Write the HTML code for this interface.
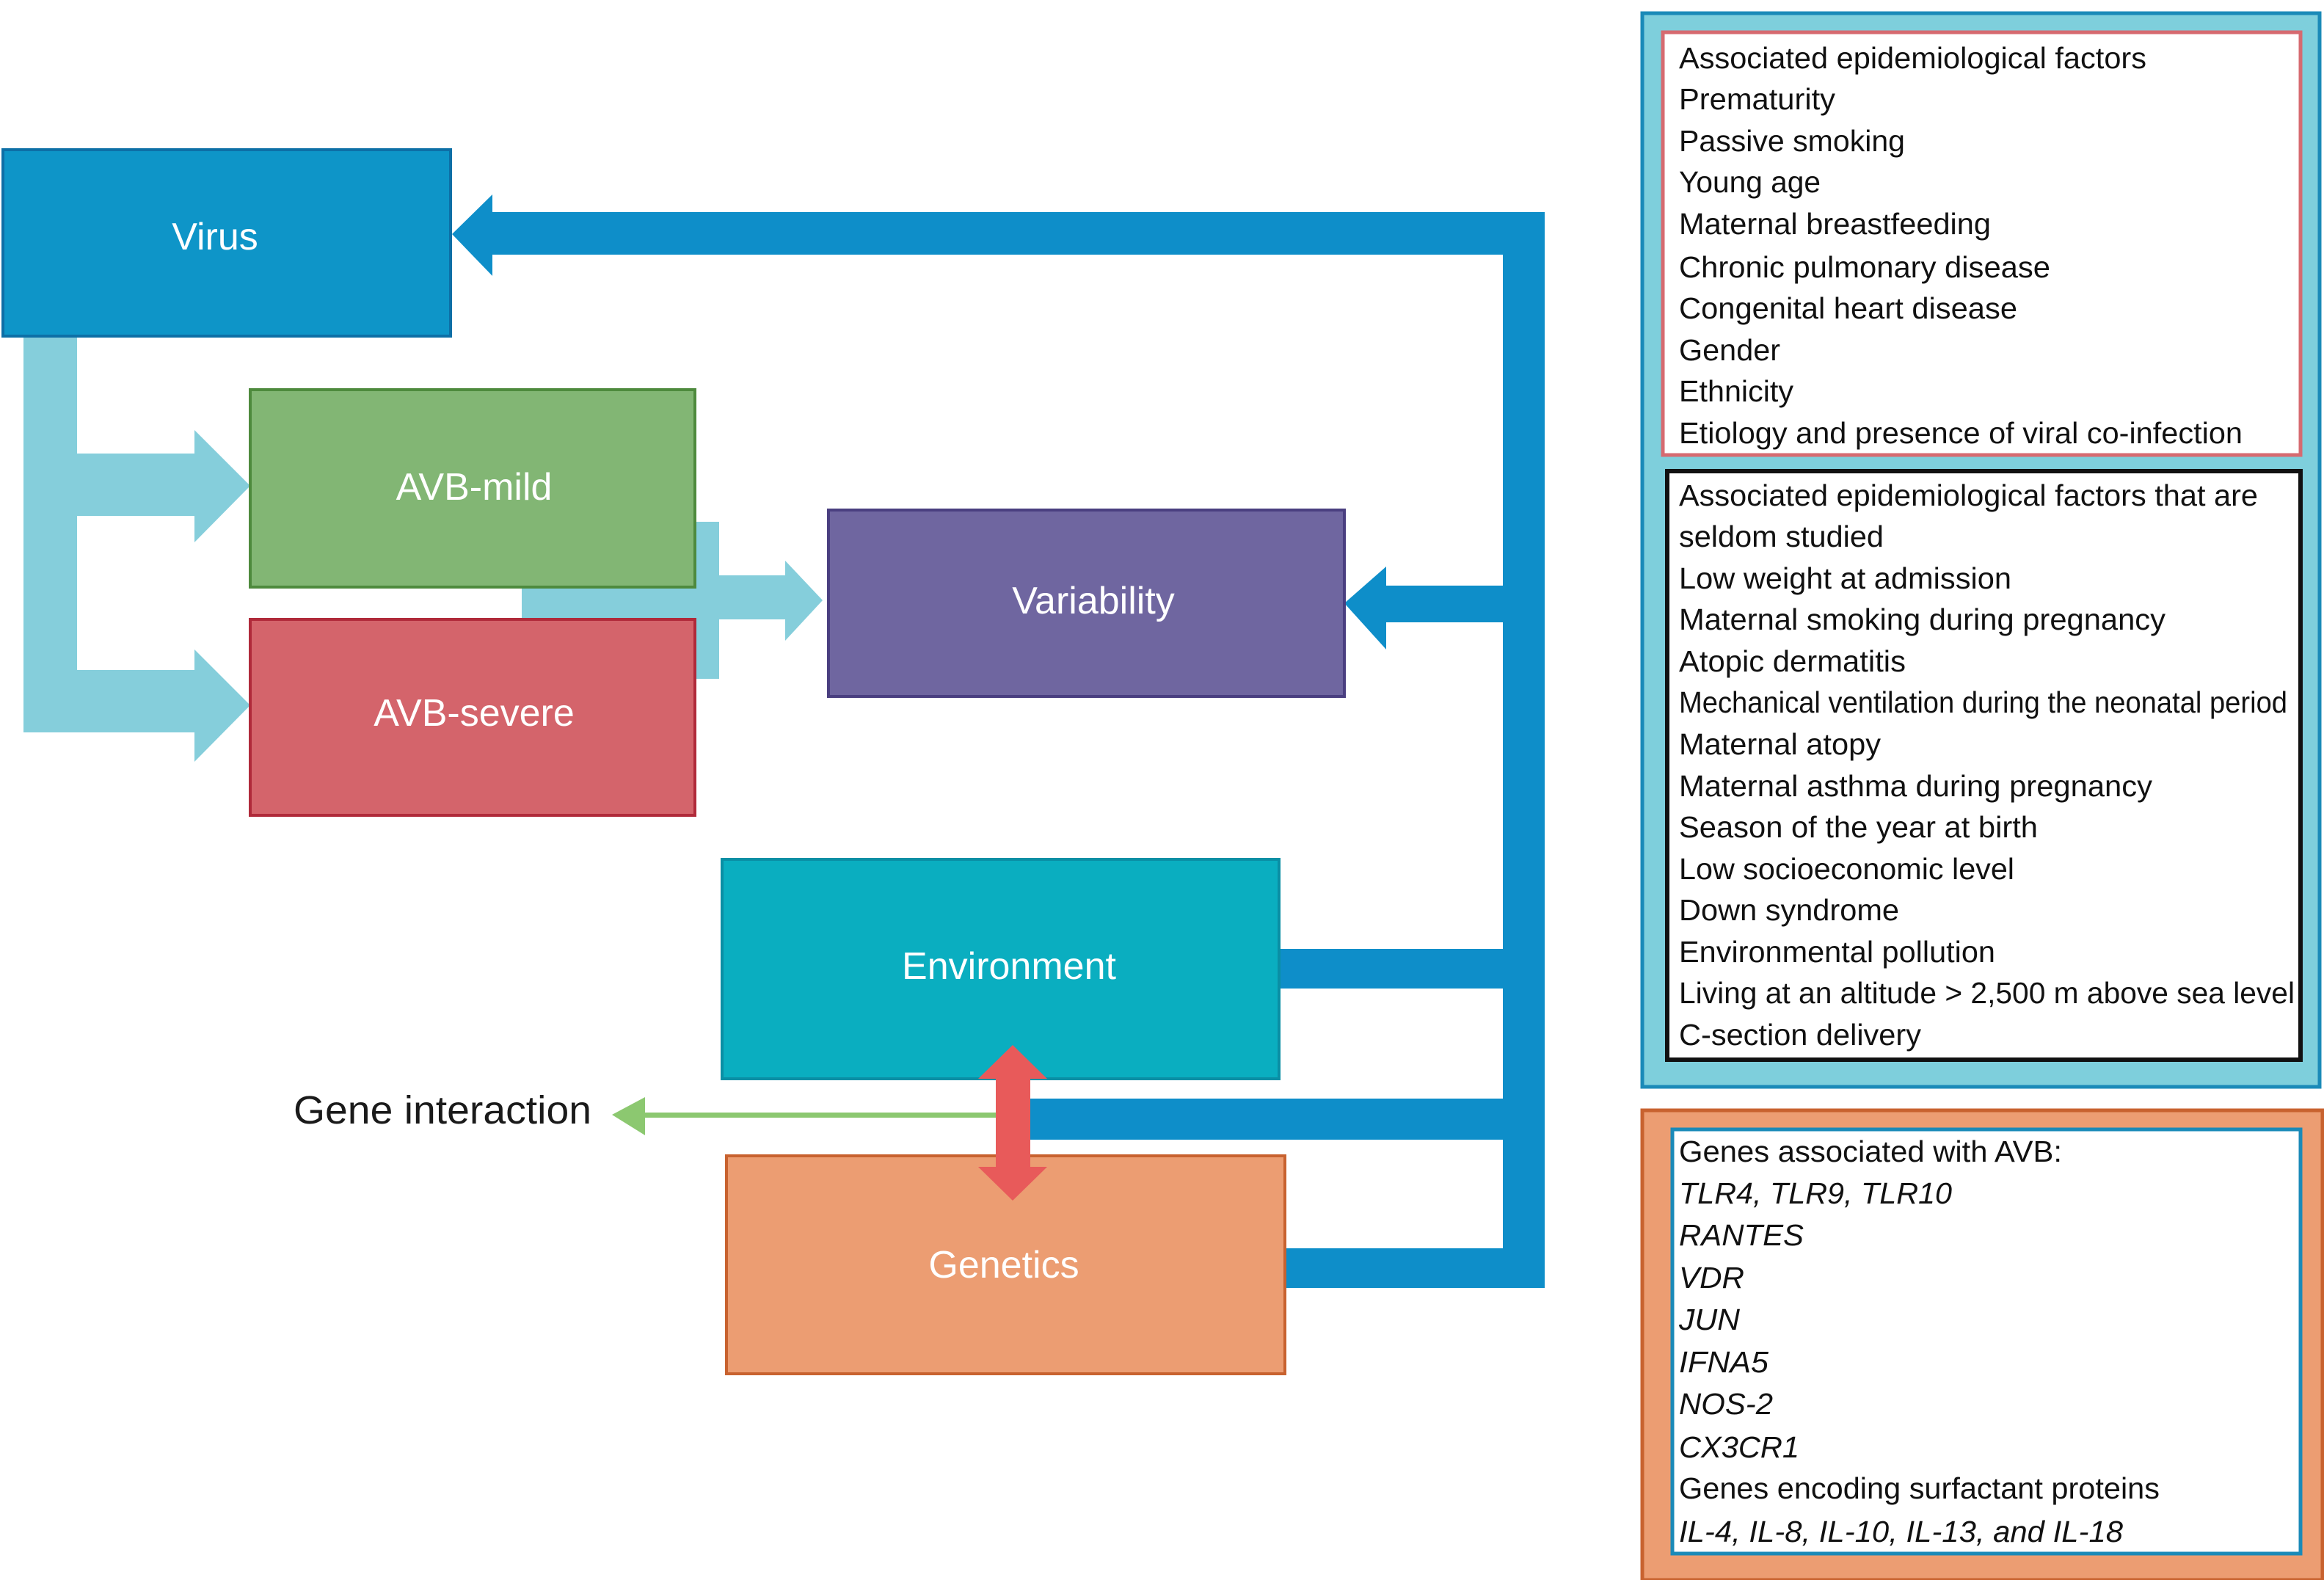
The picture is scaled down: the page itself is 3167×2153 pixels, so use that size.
<!DOCTYPE html>
<html><head><meta charset="utf-8"><style>html,body{margin:0;padding:0;background:#fff}svg{display:block}</style></head><body>
<svg width="3167" height="2153" viewBox="0 0 3167 2153" xmlns="http://www.w3.org/2000/svg" font-family="Liberation Sans, sans-serif">
<!-- light blue connectors -->
<g fill="#85cedb">
<rect x="32" y="458" width="73" height="540"/>
<rect x="32" y="618" width="235" height="85"/>
<polygon points="265,586 341,662 265,739"/>
<rect x="32" y="913" width="235" height="85"/>
<polygon points="265,885 341,961 265,1038"/>
<rect x="947" y="711" width="33" height="214"/>
<rect x="711" y="784" width="362" height="60"/>
<polygon points="1070,764 1121,818 1070,873"/>
</g>
<!-- dark blue connectors -->
<g fill="#0e8ec9">
<rect x="2048" y="289" width="57" height="1466"/>
<rect x="668" y="289" width="1437" height="58"/>
<polygon points="671,265 616,319 671,376"/>
<rect x="1886" y="798" width="190" height="50"/>
<polygon points="1889,772 1832,822 1889,885"/>
<rect x="1740" y="1293" width="330" height="54"/>
<rect x="1404" y="1497" width="666" height="56"/>
<rect x="1748" y="1701" width="357" height="54"/>
</g>
<!-- boxes -->
<rect x="4" y="204" width="610" height="254" fill="#0e95c8" stroke="#0d6fa6" stroke-width="4"/>
<rect x="341" y="531" width="606" height="269" fill="#82b674" stroke="#4e8a3d" stroke-width="4"/>
<rect x="341" y="844" width="606" height="267" fill="#d4646b" stroke="#b02a3a" stroke-width="4"/>
<rect x="1129" y="695" width="703" height="254" fill="#6f66a0" stroke="#4a3f80" stroke-width="4"/>
<rect x="984" y="1171" width="759" height="299" fill="#0aaec0" stroke="#0a8fa5" stroke-width="4"/>
<rect x="990" y="1575" width="761" height="297" fill="#ec9d72" stroke="#c8622f" stroke-width="4"/>
<!-- green arrow -->
<rect x="875" y="1516" width="485" height="7" fill="#8cc870"/>
<polygon points="834,1519 879,1495 879,1547" fill="#8cc870"/>
<!-- red double arrow -->
<g fill="#e85a5a">
<rect x="1357" y="1460" width="47" height="140"/>
<polygon points="1380,1424 1333,1470 1427,1470"/>
<polygon points="1380,1636 1333,1590 1427,1590"/>
</g>
<g fill="#fff" font-size="52" text-anchor="middle" dominant-baseline="central">
<text x="293" y="323">Virus</text>
<text x="646" y="664">AVB-mild</text>
<text x="646" y="972">AVB-severe</text>
<text x="1490" y="819">Variability</text>
<text x="1375" y="1317">Environment</text>
<text x="1368" y="1724">Genetics</text>
</g>
<text x="400" y="1513" font-size="54" fill="#1a1a1a" dominant-baseline="central" textLength="406" lengthAdjust="spacingAndGlyphs">Gene interaction</text>
<!-- right panel -->
<rect x="2238" y="18" width="923" height="1463" fill="#7ecfdc" stroke="#1a8ab8" stroke-width="5"/>
<rect x="2266" y="44" width="869" height="576" fill="#fff" stroke="#d66a70" stroke-width="5"/>
<rect x="2272" y="642" width="863" height="802" fill="#fff" stroke="#111" stroke-width="6"/>
<rect x="2238" y="1513" width="927" height="640" fill="#ec9d72" stroke="#c8622f" stroke-width="5"/>
<rect x="2279" y="1539" width="856" height="578" fill="#fff" stroke="#1a8ab8" stroke-width="5"/>
<g font-size="41" fill="#111" dominant-baseline="central" lengthAdjust="spacingAndGlyphs">
<text x="2288" y="79" textLength="637" lengthAdjust="spacingAndGlyphs">Associated epidemiological factors</text>
<text x="2288" y="135" textLength="213" lengthAdjust="spacingAndGlyphs">Prematurity</text>
<text x="2288" y="192" textLength="308" lengthAdjust="spacingAndGlyphs">Passive smoking</text>
<text x="2288" y="248" textLength="193" lengthAdjust="spacingAndGlyphs">Young age</text>
<text x="2288" y="305" textLength="425" lengthAdjust="spacingAndGlyphs">Maternal breastfeeding</text>
<text x="2288" y="364" textLength="506" lengthAdjust="spacingAndGlyphs">Chronic pulmonary disease</text>
<text x="2288" y="420" textLength="461" lengthAdjust="spacingAndGlyphs">Congenital heart disease</text>
<text x="2288" y="477" textLength="138" lengthAdjust="spacingAndGlyphs">Gender</text>
<text x="2288" y="533" textLength="156" lengthAdjust="spacingAndGlyphs">Ethnicity</text>
<text x="2288" y="590" textLength="768" lengthAdjust="spacingAndGlyphs">Etiology and presence of viral co-infection</text>
<text x="2288" y="675" textLength="789" lengthAdjust="spacingAndGlyphs">Associated epidemiological factors that are</text>
<text x="2288" y="731" textLength="279" lengthAdjust="spacingAndGlyphs">seldom studied</text>
<text x="2288" y="788" textLength="453" lengthAdjust="spacingAndGlyphs">Low weight at admission</text>
<text x="2288" y="844" textLength="663" lengthAdjust="spacingAndGlyphs">Maternal smoking during pregnancy</text>
<text x="2288" y="901" textLength="309" lengthAdjust="spacingAndGlyphs">Atopic dermatitis</text>
<text x="2288" y="957" textLength="829" lengthAdjust="spacingAndGlyphs">Mechanical ventilation during the neonatal period</text>
<text x="2288" y="1014" textLength="275" lengthAdjust="spacingAndGlyphs">Maternal atopy</text>
<text x="2288" y="1071" textLength="645" lengthAdjust="spacingAndGlyphs">Maternal asthma during pregnancy</text>
<text x="2288" y="1127" textLength="489" lengthAdjust="spacingAndGlyphs">Season of the year at birth</text>
<text x="2288" y="1184" textLength="457" lengthAdjust="spacingAndGlyphs">Low socioeconomic level</text>
<text x="2288" y="1240" textLength="300" lengthAdjust="spacingAndGlyphs">Down syndrome</text>
<text x="2288" y="1297" textLength="431" lengthAdjust="spacingAndGlyphs">Environmental pollution</text>
<text x="2288" y="1353" textLength="839" lengthAdjust="spacingAndGlyphs">Living at an altitude &gt; 2,500 m above sea level</text>
<text x="2288" y="1410" textLength="330" lengthAdjust="spacingAndGlyphs">C-section delivery</text>
<text x="2288" y="1569" textLength="522" lengthAdjust="spacingAndGlyphs">Genes associated with AVB:</text>
<g font-style="italic">
<text x="2288" y="1626" textLength="372" lengthAdjust="spacingAndGlyphs">TLR4, TLR9, TLR10</text>
<text x="2288" y="1683" textLength="170" lengthAdjust="spacingAndGlyphs">RANTES</text>
<text x="2288" y="1741" textLength="89" lengthAdjust="spacingAndGlyphs">VDR</text>
<text x="2288" y="1798" textLength="83" lengthAdjust="spacingAndGlyphs">JUN</text>
<text x="2288" y="1856" textLength="122" lengthAdjust="spacingAndGlyphs">IFNA5</text>
<text x="2288" y="1913" textLength="128" lengthAdjust="spacingAndGlyphs">NOS-2</text>
<text x="2288" y="1972" textLength="164" lengthAdjust="spacingAndGlyphs">CX3CR1</text>
</g>
<text x="2288" y="2028" textLength="655" lengthAdjust="spacingAndGlyphs">Genes encoding surfactant proteins</text>
<text x="2288" y="2087" font-style="italic" textLength="605" lengthAdjust="spacingAndGlyphs">IL-4, IL-8, IL-10, IL-13, and IL-18</text>
</g>
</svg>
</body></html>
